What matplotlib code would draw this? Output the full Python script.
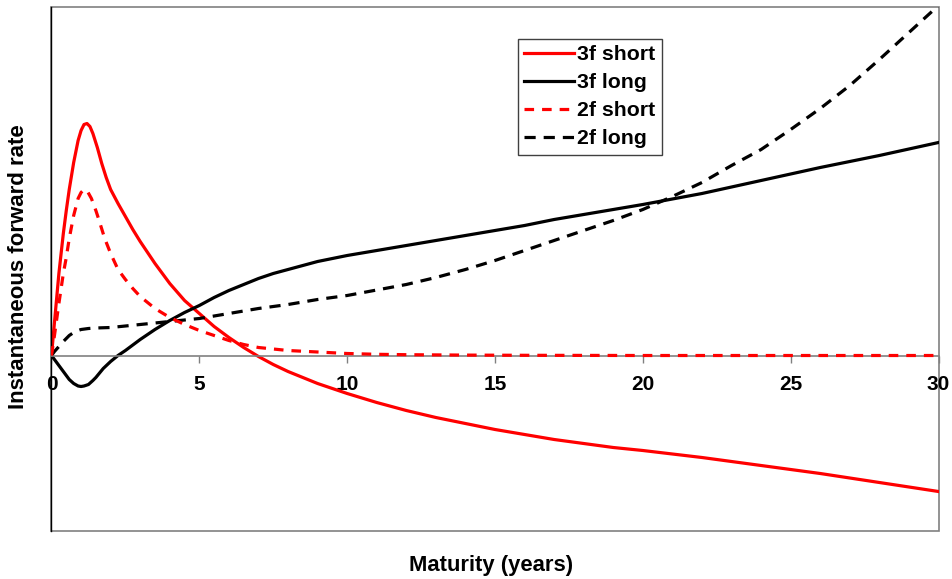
import matplotlib
matplotlib.use("Agg")
import matplotlib.pyplot as plt

plt.rcParams['font.family'] = ['Liberation Sans', 'DejaVu Sans']

# Maturity (years) and instantaneous forward rates (arbitrary units)
mat_3fs = [0, 0.1, 0.25, 0.4, 0.5, 0.6, 0.75, 0.9, 1.0, 1.1, 1.2, 1.3, 1.4, 1.55, 1.7, 1.85, 2.0,
           2.25, 2.5, 2.75, 3.0, 3.5, 4.0, 4.5, 5.0, 5.5, 6.0, 6.5, 7.0, 7.5, 8.0, 8.5, 9.0,
           10, 11, 12, 13, 14, 15, 16, 17, 18, 19, 20, 22, 24, 26, 28, 30]
f3_short = [0, 0.33, 0.82, 1.22, 1.45, 1.66, 1.93, 2.15, 2.25, 2.31, 2.32, 2.29, 2.22, 2.08, 1.92, 1.78, 1.66,
            1.52, 1.39, 1.26, 1.14, 0.92, 0.72, 0.55, 0.42, 0.29, 0.18, 0.08, -0.01, -0.09, -0.16, -0.22, -0.28,
            -0.38, -0.47, -0.55, -0.62, -0.68, -0.74, -0.79, -0.84, -0.88, -0.92, -0.95, -1.02, -1.10, -1.18, -1.27, -1.36]

mat_3fl = [0, 0.1, 0.25, 0.4, 0.5, 0.6, 0.75, 0.9, 1.0, 1.1, 1.25, 1.4, 1.5, 1.75, 2.0, 2.25, 2.5,
           3.0, 3.5, 4.0, 4.5, 5.0, 5.5, 6.0, 6.5, 7.0, 7.5, 8.0, 8.5, 9.0, 9.5, 10,
           11, 12, 13, 14, 15, 16, 17, 18, 19, 20, 22, 24, 26, 28, 30]
f3_long = [0, -0.04, -0.10, -0.16, -0.20, -0.24, -0.28, -0.305, -0.31, -0.305, -0.29, -0.25, -0.22, -0.13, -0.06, 0.0, 0.05,
           0.16, 0.26, 0.35, 0.43, 0.50, 0.58, 0.65, 0.71, 0.77, 0.82, 0.86, 0.90, 0.94, 0.97, 1.00,
           1.05, 1.10, 1.15, 1.20, 1.25, 1.30, 1.36, 1.41, 1.46, 1.51, 1.62, 1.75, 1.88, 2.00, 2.13]

mat_2fs = [0, 0.1, 0.25, 0.4, 0.5, 0.6, 0.75, 0.9, 1.0, 1.1, 1.2, 1.35, 1.5, 1.6, 1.8, 2.0, 2.25, 2.5, 2.75,
           3.0, 3.5, 4.0, 4.5, 5.0, 5.5, 6.0, 6.5, 7.0, 8.0, 9.0, 10, 11, 12, 14, 16, 18, 20,
           22, 24, 26, 28, 30]
f2_short = [0, 0.20, 0.52, 0.82, 0.98, 1.17, 1.40, 1.57, 1.63, 1.66, 1.65, 1.57, 1.45, 1.36, 1.17, 1.02, 0.86, 0.76, 0.67,
            0.59, 0.47, 0.38, 0.31, 0.25, 0.20, 0.15, 0.11, 0.08, 0.05, 0.035, 0.02, 0.012, 0.008, 0.004, 0.002, 0.001, 0,
            0, 0, 0, 0, 0]

mat_2fl = [0, 0.1, 0.25, 0.4, 0.5, 0.6, 0.75, 0.9, 1.0, 1.25, 1.5, 2.0, 3.0, 4.0, 5.0, 6.0, 7.0, 8.0, 9.0, 10,
           11, 12, 13, 14, 15, 16, 17, 18, 19, 20, 21, 22, 23, 24, 25, 26, 27, 28, 29, 30]
f2_long = [0, 0.04, 0.09, 0.14, 0.17, 0.20, 0.23, 0.25, 0.26, 0.27, 0.275, 0.28, 0.31, 0.34, 0.37, 0.42, 0.47, 0.51, 0.56, 0.60,
           0.655, 0.71, 0.78, 0.86, 0.95, 1.05, 1.15, 1.25, 1.35, 1.46, 1.59, 1.73, 1.90, 2.06, 2.26, 2.47, 2.70, 2.96, 3.23, 3.50]

xticks = [0, 5, 10, 15, 20, 25, 30]
labels = ['3f short', '3f long', '2f short', '2f long']

fig = plt.figure(figsize=(9.53, 5.79), dpi=100)
ax = fig.add_axes([51.5 / 953, 1 - 530.5 / 579, 887 / 953, 524 / 579])

ax.spines['top'].set_visible(False)
ax.spines['right'].set_visible(False)
ax.spines['left'].set_color('black')
ax.spines['left'].set_linewidth(1.0)
ax.spines['bottom'].set_position(('data', 0))
ax.spines['bottom'].set_color('#808080')
ax.spines['bottom'].set_linewidth(1.2)
ax.patch.set_edgecolor('#808080')
ax.patch.set_linewidth(1.2)

ax.plot(mat_3fs, f3_short, color='#ff0000', lw=2.3, label=labels[0])
ax.plot(mat_3fl, f3_long, color='#000000', lw=2.3, label=labels[1])
ax.plot(mat_2fs, f2_short, color='#ff0000', lw=2.3, dashes=(3, 2.5), label=labels[2], zorder=4)
ax.plot(mat_2fl, f2_long, color='#000000', lw=2.3, dashes=(3.5, 2.5), label=labels[3])

ax.set_xlim(0, 30)
ax.set_ylim(-1.75, 3.49)
ax.set_xticks(xticks)
ax.set_yticks([])
ax.tick_params(axis='x', direction='out', length=5, width=1, color='#808080', pad=9,
               labelsize=15, labelcolor='black')
for lab in ax.get_xticklabels():
    lab.set_fontweight('bold')

fig.text(491 / 953, 1 - 571 / 579, 'Maturity (years)', ha='center', va='baseline',
         fontsize=15.8, fontweight='bold')
fig.text(19 / 953, 1 - 267 / 579, 'Instantaneous forward rate', ha='center', va='center',
         rotation=90, fontsize=16, fontweight='bold')

leg = ax.legend(loc='upper left', bbox_to_anchor=(518 / 953, 1 - 39 / 579),
                bbox_transform=fig.transFigure, prop={'size': 15.3, 'weight': 'bold'},
                frameon=True, fancybox=False, shadow=False, framealpha=1,
                handlelength=2.35, handletextpad=0.15, borderpad=0.3, labelspacing=0.42,
                borderaxespad=0)
leg.get_frame().set_edgecolor('#404040')
leg.get_frame().set_linewidth(1.0)

fig.savefig('out.png', dpi=100)
